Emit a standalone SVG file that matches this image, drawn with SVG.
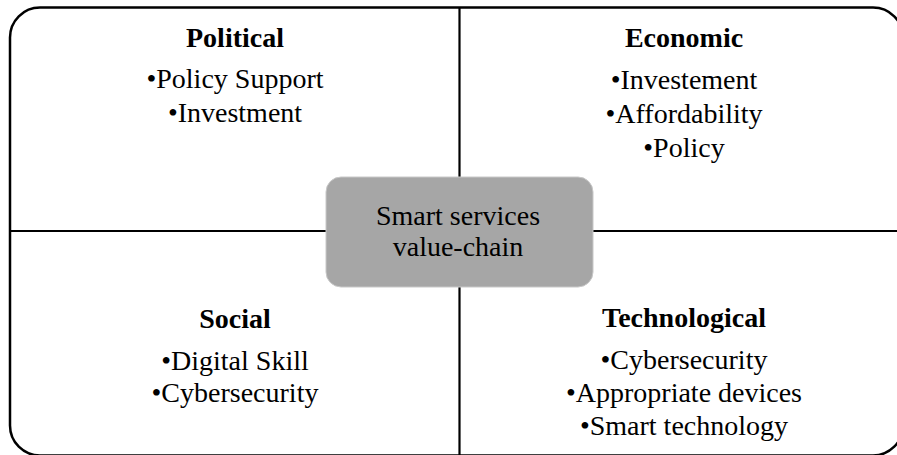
<svg xmlns="http://www.w3.org/2000/svg" width="897" height="455" viewBox="0 0 897 455">
<style>
text{font-family:"Liberation Serif","Times New Roman",serif;font-size:28px;fill:#000;text-anchor:middle}
.h{font-weight:bold}
.ln{stroke:#000;stroke-width:2.2;fill:none}
</style>
<rect x="0" y="0" width="897" height="455" fill="#fff"/>
<g id="frame"><rect x="10" y="7.5" width="893" height="448" rx="30" ry="30" fill="none" stroke="#000" stroke-width="2.5"/></g>
<g id="connectors">
<line class="ln" x1="459.5" y1="8" x2="459.5" y2="455"/>
<line class="ln" x1="10" y1="231" x2="903" y2="231"/>
</g>
<g id="political">
<text class="h" x="235" y="47">Political</text>
<text x="235" y="88">•Policy Support</text>
<text x="235" y="122">•Investment</text>
</g>
<g id="economic">
<text class="h" x="684" y="47">Economic</text>
<text x="684" y="89">•Investement</text>
<text x="684" y="122.5">•Affordability</text>
<text x="684" y="156.5">•Policy</text>
</g>
<g id="social">
<text class="h" x="235" y="328">Social</text>
<text x="235" y="370">•Digital Skill</text>
<text x="235" y="402">•Cybersecurity</text>
</g>
<g id="technological">
<text class="h" x="684" y="327">Technological</text>
<text x="684" y="369">•Cybersecurity</text>
<text x="684" y="402">•Appropriate devices</text>
<text x="684" y="435">•Smart technology</text>
</g>
<g id="center">
<rect x="326" y="177" width="267" height="110" rx="15" ry="15" fill="#a6a6a6" stroke="#c8c8c8" stroke-width="1"/>
<text x="458" y="225" fill="#1a1a1a">Smart services</text>
<text x="458" y="256" fill="#1a1a1a">value-chain</text>
</g>
</svg>
